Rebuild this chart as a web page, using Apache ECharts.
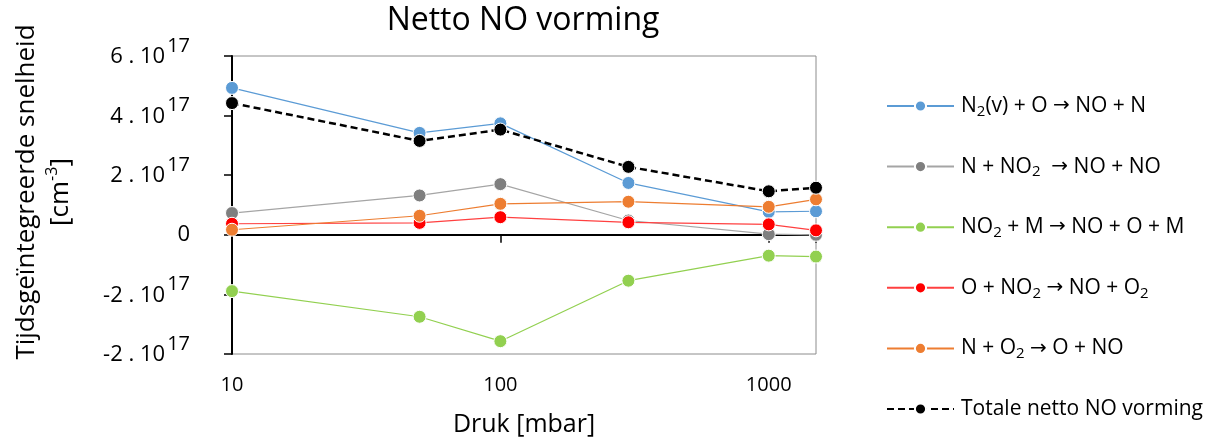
<!DOCTYPE html>
<html>
<head>
<meta charset="utf-8">
<script src="https://cdn.jsdelivr.net/npm/echarts@6/dist/echarts.min.js"></script>
<style>
  html, body { margin: 0; padding: 0; background: #ffffff; }
  #chart { width: 1211px; height: 442px; }
</style>
</head>
<body>
<div id="chart"></div>
<script>
// Pressure points (mbar)
const pressures = [10, 50, 100, 300, 1000, 1500];

// Time-integrated rates per reaction (cm^-3)
const n2vO      = [4.93e17, 3.42e17, 3.74e17, 1.74e17, 0.77e17, 0.79e17];
const nNO2      = [0.73e17, 1.32e17, 1.70e17, 0.48e17, 0.02e17, 0.00e17];
const no2M      = [-1.89e17, -2.75e17, -3.57e17, -1.54e17, -0.70e17, -0.73e17];
const oNO2      = [0.37e17, 0.40e17, 0.59e17, 0.42e17, 0.35e17, 0.15e17];
const nO2       = [0.17e17, 0.64e17, 1.04e17, 1.11e17, 0.94e17, 1.19e17];
const totalNet  = [4.42e17, 3.15e17, 3.53e17, 2.28e17, 1.46e17, 1.58e17];

const seriesNames = [
  'N₂(v) + O → NO + N',
  'N + NO₂  → NO + NO',
  'NO₂ + M → NO + O + M',
  'O + NO₂ → NO + O₂',
  'N + O₂ → O + NO',
  'Totale netto NO vorming'
];

// Y tick values and their printed mantissas (× 10^17)
const yTickValues = [-4e17, -2e17, 0, 2e17, 4e17, 6e17];
const yTickMantissas = ['-2', '-2', '0', '2', '4', '6'];
const yExponent = '17';

const xTickLabels = [10, 100, 1000];

const FONT = 'Open Sans';

function pairs(values) {
  return pressures.map((p, i) => [p, values[i]]);
}

function lineSeries(name, values, color, lineColor, extra) {
  return Object.assign({
    name: name,
    type: 'line',
    xAxisIndex: 0,
    data: pairs(values),
    symbol: 'circle',
    symbolSize: 13,
    showSymbol: true,
    lineStyle: { color: lineColor, width: 1.2 },
    itemStyle: { color: color, borderColor: '#ffffff', borderWidth: 1 },
    emphasis: { disabled: true },
    animation: false
  }, extra || {});
}

const chart = echarts.init(document.getElementById('chart'), null, { renderer: 'canvas' });

chart.setOption({
  backgroundColor: '#ffffff',
  animation: false,
  textStyle: { fontFamily: FONT },
  title: {
    text: 'Netto NO vorming',
    left: 518,
    textAlign: 'center',
    top: 0,
    textStyle: { fontFamily: FONT, fontSize: 32, fontWeight: 'normal', color: '#000000' }
  },
  grid: {
    left: 232, right: 395, top: 56, bottom: 88,
    show: true, borderColor: '#8c8c8c', borderWidth: 1, backgroundColor: 'transparent'
  },
  legend: {
    orient: 'vertical',
    left: 886,
    top: 94,
    padding: 0,
    itemWidth: 67,
    itemHeight: 14,
    itemGap: 35.6,
    selectedMode: false,
    data: seriesNames,
    formatter: function (name) {
      return name.replace(/₂/g, '{sub|2}').replace(/→/g, '{arr|→}');
    },
    textStyle: {
      fontFamily: FONT, fontSize: 21, color: '#000000', lineHeight: 24,
      padding: [0, 0, 0, 2],
      rich: {
        sub: { fontFamily: FONT, fontSize: 15, lineHeight: 15, verticalAlign: 'top', padding: [10, 0, 0, 0], color: '#000000' },
        arr: { fontFamily: 'DejaVu Sans', fontSize: 20, lineHeight: 24, color: '#000000' }
      }
    }
  },
  xAxis: [
    {
      type: 'log', logBase: 10, min: 10, max: 1500,
      position: 'bottom',
      name: 'Druk [mbar]', nameLocation: 'middle', nameGap: 58,
      nameTextStyle: { fontFamily: FONT, fontSize: 25, color: '#000000' },
      axisLine: { show: false, onZero: false },
      axisTick: { show: false },
      splitLine: { show: false },
      minorTick: { show: false },
      axisLabel: {
        margin: 21,
        fontFamily: FONT, fontSize: 20, color: '#000000',
        showMaxLabel: false,
        formatter: function (v) {
          const hit = xTickLabels.find(t => Math.abs(t - v) / t < 1e-6);
          return hit ? String(hit) : '';
        }
      }
    },
    {
      type: 'log', logBase: 10, min: 10, max: 1500,
      position: 'top',
      axisLine: { show: true, onZero: true, lineStyle: { color: '#000000', width: 2 } },
      axisTick: { show: true, inside: true, length: 8, lineStyle: { color: '#000000', width: 1.5 } },
      axisLabel: { show: false },
      splitLine: { show: false },
      minorTick: { show: false }
    }
  ],
  yAxis: {
    type: 'value',
    min: -4e17, max: 6e17, interval: 2e17,
    axisLine: { show: true, lineStyle: { color: '#000000', width: 2 } },
    axisTick: { show: true, length: 8, lineStyle: { color: '#000000', width: 1.5 } },
    splitLine: { show: false },
    axisLabel: {
      margin: 42,
      color: '#000000',
      formatter: function (v) {
        const i = yTickValues.findIndex(t => Math.abs(t - v) < 1e12);
        if (i < 0) return '';
        const m = yTickMantissas[i];
        if (m === '0') return '{zero|0}';
        return '{main|' + m + ' . 10}{sup|' + yExponent + '}';
      },
      rich: {
        main: { fontFamily: FONT, fontSize: 22, lineHeight: 24, verticalAlign: 'bottom', color: '#000000' },
        sup: { fontFamily: FONT, fontSize: 20, lineHeight: 20, verticalAlign: 'bottom', padding: [0, 0, 12, 2], color: '#000000' },
        zero: { fontFamily: FONT, fontSize: 22, lineHeight: 24, color: '#000000' }
      }
    }
  },
  graphic: [
    {
      type: 'text',
      x: 44, y: 192,
      rotation: Math.PI / 2,
      silent: true,
      style: {
        text: 'Tijdsgeïntegreerde snelheid\n[cm{sup|-3}]',
        fontFamily: FONT, fontSize: 26, lineHeight: 34,
        fill: '#000000',
        align: 'center', verticalAlign: 'middle',
        rich: {
          sup: { fontFamily: FONT, fontSize: 16, lineHeight: 16, verticalAlign: 'top', padding: [0, 0, 0, 0], fill: '#000000' }
        }
      }
    }
  ],
  series: [
    lineSeries(seriesNames[0], n2vO, '#5b9bd5', '#5b9bd5'),
    lineSeries(seriesNames[1], nNO2, '#7f7f7f', '#a5a5a5'),
    lineSeries(seriesNames[2], no2M, '#92d050', '#92d050'),
    lineSeries(seriesNames[3], oNO2, '#ff0000', '#ff4040'),
    lineSeries(seriesNames[4], nO2, '#ed7d31', '#ed7d31'),
    lineSeries(seriesNames[5], totalNet, '#000000', '#000000', {
      lineStyle: { color: '#000000', width: 2.5, type: [7, 4] }
    })
  ]
});
</script>
</body>
</html>
